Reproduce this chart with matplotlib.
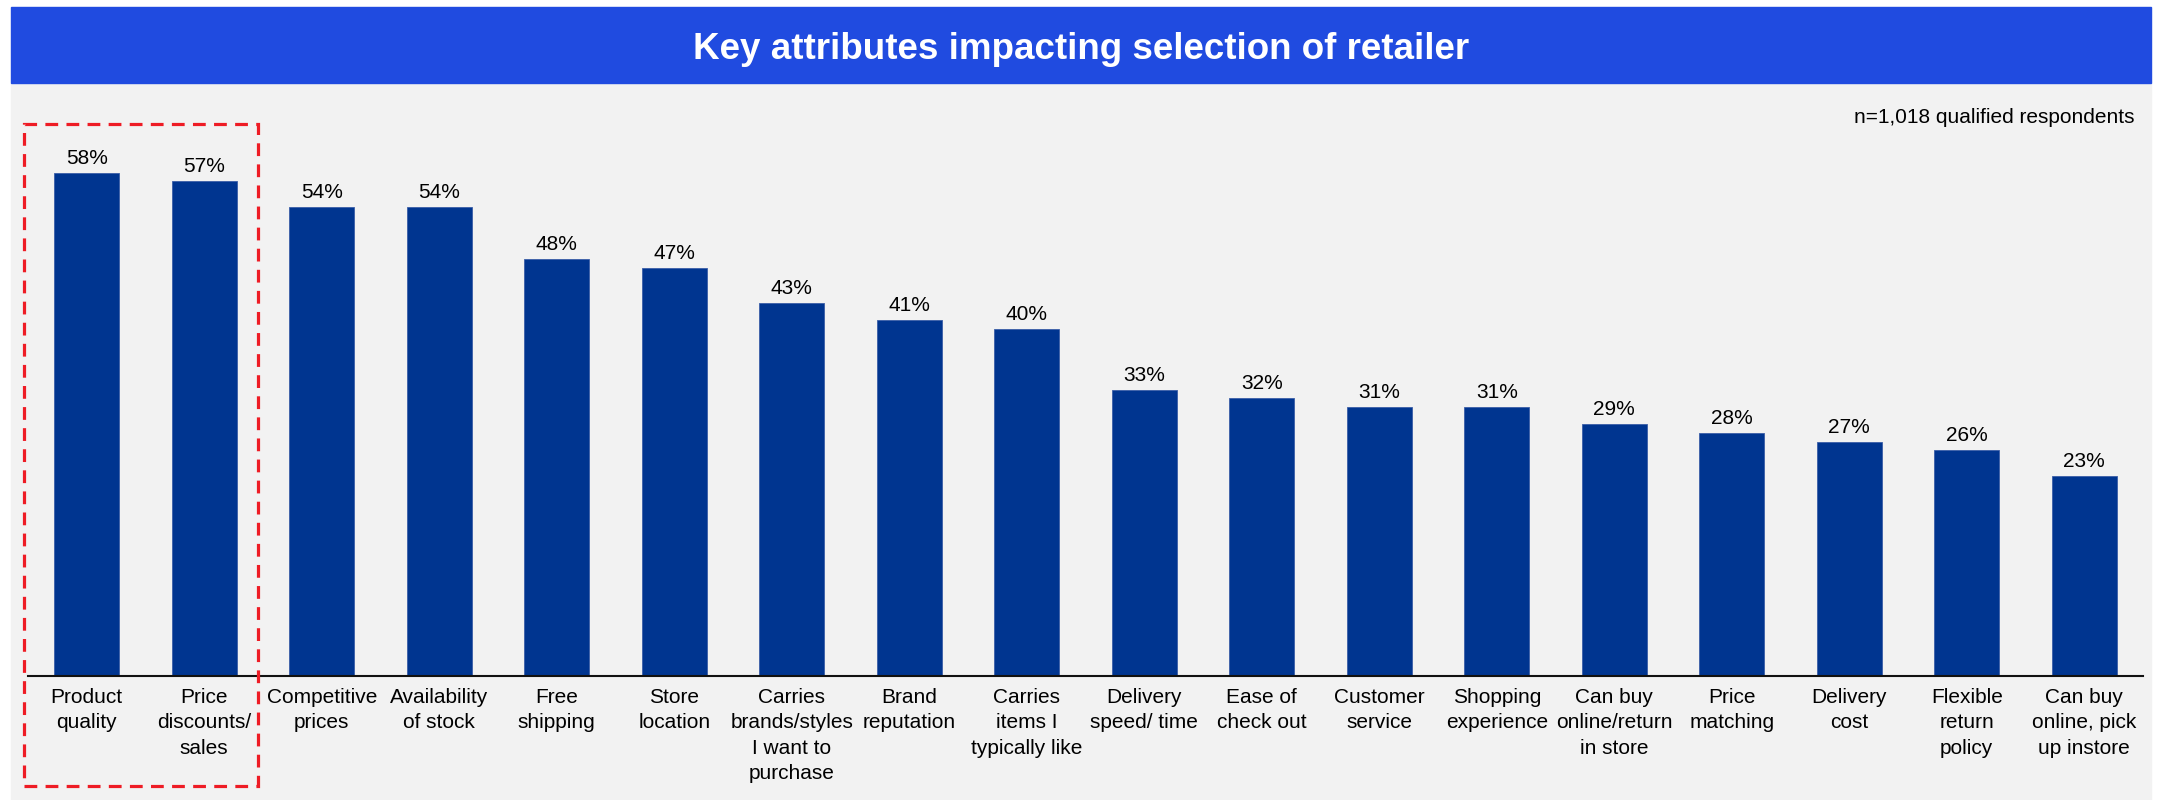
import numpy as np
import matplotlib.pyplot as plt
from matplotlib.patches import Rectangle
from matplotlib.transforms import blended_transform_factory

plt.rcParams['font.family'] = ['Liberation Sans', 'DejaVu Sans']

# Survey results
categories = [
    "Product\nquality", "Price\ndiscounts/\nsales", "Competitive\nprices",
    "Availability\nof stock", "Free\nshipping", "Store\nlocation",
    "Carries\nbrands/styles\nI want to\npurchase", "Brand\nreputation",
    "Carries\nitems I\ntypically like", "Delivery\nspeed/ time",
    "Ease of\ncheck out", "Customer\nservice", "Shopping\nexperience",
    "Can buy\nonline/return\nin store", "Price\nmatching", "Delivery\ncost",
    "Flexible\nreturn\npolicy", "Can buy\nonline, pick\nup instore",
]
shares = [58, 57, 54, 54, 48, 47, 43, 41, 40, 33, 32, 31, 31, 29, 28, 27, 26, 23]

title = "Key attributes impacting selection of retailer"
note = "n=1,018 qualified respondents"

W, H = 2158, 800
BAR = "#003590"
BAND = "#204BE0"
GREY = "#F2F2F2"

fig = plt.figure(figsize=(W / 100, H / 100), dpi=100)
fig.patch.set_facecolor("white")


def fx(px):
    return px / W


def fy(py):
    return 1 - py / H


# header band and grey panel
fig.patches.append(Rectangle((fx(11), fy(800)), fx(2140), 717 / H,
                             transform=fig.transFigure, color=GREY, zorder=-2))
fig.patches.append(Rectangle((fx(11), fy(83)), fx(2140), 76 / H,
                             transform=fig.transFigure, color=BAND, zorder=-1))
fig.text(fx(1081), fy(59), title, color="white", fontsize=26.5,
         fontweight="bold", ha="center", va="baseline")
fig.text(fx(2134), fy(123), note, fontsize=15, ha="right", va="baseline")

ax = fig.add_axes([fx(28), fy(676), fx(2115), (676 - 110) / H])
ax.set_zorder(1)
ax.patch.set_alpha(0)

x = np.arange(len(shares))
ax.bar(x, shares, width=0.555, color=BAR, edgecolor="#3a5ea8", linewidth=0.6)
for xi, v in zip(x, shares):
    ax.annotate(f"{v}%", (xi, v), xytext=(0, 6.5), textcoords="offset points",
                ha="center", va="baseline", fontsize=15)

ax.set_xlim(-0.5, len(shares) - 0.5)
ax.set_ylim(0, (676 - 110) / 8.68)
ax.set_xticks(x, categories, fontsize=15, linespacing=1.43)
ax.tick_params(axis="x", length=0, pad=8.5)
ax.set_yticks([])
for side in ["top", "right", "left"]:
    ax.spines[side].set_visible(False)
ax.spines["bottom"].set_linewidth(1.5)
ax.spines["bottom"].set_color("#111111")

# highlight box around the top two attributes
tr = blended_transform_factory(ax.transData, fig.transFigure)
ax.add_patch(Rectangle((-0.53, fy(786)), 1.99, (786 - 124) / H, transform=tr,
                       fill=False, edgecolor="#EE1C25", linewidth=2.3,
                       linestyle=(0, (4, 2.6)), clip_on=False, zorder=5))

fig.savefig("out.png", dpi=100)
